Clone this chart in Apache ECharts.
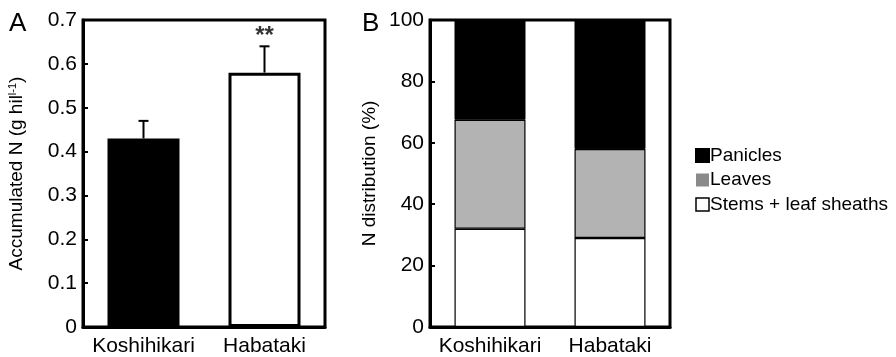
<!DOCTYPE html>
<html><head><meta charset="utf-8">
<script src="https://cdn.jsdelivr.net/npm/echarts@6/dist/echarts.min.js"></script>
<style>html,body{margin:0;padding:0;background:#fff}#c{width:896px;height:357px}</style>
</head><body><div id="c"></div>
<script>
const categories = ['Koshihikari', 'Habataki'];
// Panel A: accumulated N (g hill-1)
const accumN = [0.43, 0.58];
const accumErr = [0.04, 0.06];
const sigMarks = ['', '**'];
const yTicksA = [0, 0.1, 0.2, 0.3, 0.4, 0.5, 0.6, 0.7];
// Panel B: N distribution (%)
const stems = [32, 29];
const leaves = [35.5, 29];
const panicles = [32.5, 42];
const yTicksB = [0, 20, 40, 60, 80, 100];

const FONT = '"Liberation Sans", Arial, sans-serif';
const chart = echarts.init(document.getElementById('c'), null, {renderer: 'canvas'});

const axisLine = {show: true, lineStyle: {color: '#000', width: 3}};
const yAxisCommon = {
  type: 'value',
  axisLine: axisLine,
  axisTick: {show: true, inside: true, length: 5, lineStyle: {color: '#000', width: 2}},
  splitLine: {show: false},
  axisLabel: {color: '#000', fontSize: 21, fontFamily: FONT, margin: 6},
  nameLocation: 'middle',
  nameTextStyle: {color: '#000', fontSize: 19, fontFamily: FONT}
};
const xAxisCommon = {
  type: 'category',
  data: categories,
  axisLine: axisLine,
  axisTick: {show: false},
  axisLabel: {color: '#000', fontSize: 21, fontFamily: FONT, margin: 9, interval: 0, hideOverlap: false}
};

chart.setOption({
  animation: false,
  textStyle: {fontFamily: FONT},
  grid: [
    {left: 83, right: 571, top: 20, bottom: 29, show: true, borderColor: '#000', borderWidth: 3, backgroundColor: 'transparent'},
    {left: 430, right: 226, top: 20, bottom: 29, show: true, borderColor: '#000', borderWidth: 3, backgroundColor: 'transparent'}
  ],
  xAxis: [
    Object.assign({gridIndex: 0}, xAxisCommon),
    Object.assign({gridIndex: 1}, xAxisCommon)
  ],
  yAxis: [
    Object.assign({}, yAxisCommon, {
      gridIndex: 0, min: yTicksA[0], max: yTicksA[yTicksA.length - 1], interval: 0.1,
      axisLabel: Object.assign({}, yAxisCommon.axisLabel, {formatter: v => v === 0 ? '0' : v.toFixed(1)}),
      name: '{n|Accumulated N (g hil}{s|l-1}{n|)}', nameGap: 56,
      nameTextStyle: {color: '#000', fontFamily: FONT, rich: {n: {fontSize: 19, fontFamily: FONT, color: '#000'}, s: {fontSize: 11, fontFamily: FONT, color: '#000', verticalAlign: 'top', padding: [0, 0, 9, 0]}}}
    }),
    Object.assign({}, yAxisCommon, {
      gridIndex: 1, min: yTicksB[0], max: yTicksB[yTicksB.length - 1], interval: 20,
      name: 'N distribution (%)', nameGap: 51
    })
  ],
  legend: {
    orient: 'vertical', left: 695, top: 146, itemWidth: 13, itemHeight: 13, itemGap: 5.5,
    padding: 0,
    icon: 'rect',
    textStyle: {color: '#000', fontSize: 19, fontFamily: FONT, padding: [0, 0, 0, -4]},
    data: [
      {name: 'Panicles', itemStyle: {color: '#000'}},
      {name: 'Leaves', itemStyle: {color: '#8a8a8a', borderWidth: 0}},
      {name: 'Stems + leaf sheaths', itemStyle: {color: '#fff', borderColor: '#000', borderWidth: 1.5}}
    ]
  },
  graphic: [
    {type: 'text', left: 9, top: 11, style: {text: 'A', fontSize: 26, fontFamily: FONT, fill: '#000'}},
    {type: 'text', left: 362, top: 11, style: {text: 'B', fontSize: 26, fontFamily: FONT, fill: '#000'}}
  ],
  series: [
    {
      type: 'bar', xAxisIndex: 0, yAxisIndex: 0, barWidth: 72,
      data: accumN.map((v, i) => ({value: v, itemStyle: i === 0 ? {color: '#000', borderColor: '#000', borderWidth: 0} : {color: '#fff', borderColor: '#000', borderWidth: 3}})),
      z: 2
    },
    {
      type: 'custom', xAxisIndex: 0, yAxisIndex: 0, z: 1,
      data: accumN.map((v, i) => [i, v, accumErr[i]]),
      renderItem: function (params, api) {
        const x = api.value(0), v = api.value(1), e = api.value(2);
        const p0 = api.coord([x, v]);
        const p1 = api.coord([x, v + e]);
        return {type: 'group', children: [
          {type: 'line', shape: {x1: p0[0], y1: p0[1], x2: p1[0], y2: p1[1]}, style: {stroke: '#000', lineWidth: 2}},
          {type: 'line', shape: {x1: p1[0] - 5, y1: p1[1], x2: p1[0] + 5, y2: p1[1]}, style: {stroke: '#000', lineWidth: 2}}
        ]};
      }
    },
    {
      type: 'scatter', xAxisIndex: 0, yAxisIndex: 0, symbolSize: 0,
      data: accumN.map((v, i) => [i, v + accumErr[i]]),
      label: {show: true, position: 'top', distance: -2, color: '#000', fontSize: 24, fontWeight: 'bold', fontFamily: FONT,
        formatter: p => sigMarks[p.dataIndex]}
    },
    {
      name: 'Stems + leaf sheaths', type: 'bar', stack: 'b', xAxisIndex: 1, yAxisIndex: 1, barWidth: 71,
      data: stems, itemStyle: {color: '#fff', borderColor: '#000', borderWidth: 1.2}
    },
    {
      name: 'Leaves', type: 'bar', stack: 'b', xAxisIndex: 1, yAxisIndex: 1, barWidth: 71,
      data: leaves, itemStyle: {color: '#b3b3b3', borderColor: '#000', borderWidth: 1.2}
    },
    {
      name: 'Panicles', type: 'bar', stack: 'b', xAxisIndex: 1, yAxisIndex: 1, barWidth: 71,
      data: panicles, itemStyle: {color: '#000', borderColor: '#000', borderWidth: 1}
    }
  ]
});
</script>
</body></html>
